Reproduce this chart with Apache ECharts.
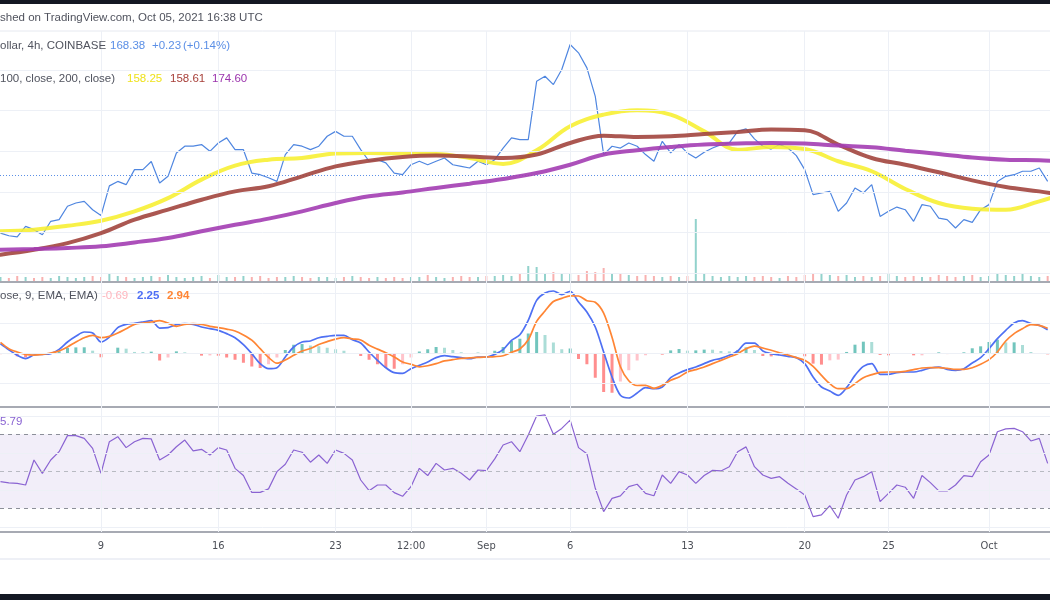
<!DOCTYPE html>
<html><head><meta charset="utf-8">
<script src="https://cdn.jsdelivr.net/npm/echarts@6/dist/echarts.min.js"></script>
<style>html,body{margin:0;padding:0;background:#fff;overflow:hidden}#c{width:1050px;height:600px}</style>
</head><body><div id="c"></div>
<script>
// ---- data (12h samples, day 0 = Aug 3 2021 00:00 UTC) ----
const stepDays = 0.5;
const priceClose = [139.8,138.5,137.9,143.1,141.5,139,145.6,146.4,153,154.6,155.4,151.3,148.4,163,165.2,163.6,171,171,175,164.4,167.7,179.2,182.5,182.5,183.3,180,184.1,186.6,180.8,180.8,169.3,168.5,167,165.2,178.4,183.3,182.5,180.8,182.5,187.4,189.8,187.4,
187.4,180.8,175.1,175.9,174.3,169.3,168.5,173.4,175.1,173.4,175.1,176.7,173.4,172.6,171.8,175.1,173.4,175.9,181.6,186.6,185.7,185.7,214.4,216.9,212.8,220.2,232.5,228.4,221,207,178.4,182.5,181.6,184.1,182.5,178.4,175.1,184.9,179.2,183.3,179.2,176.7,
179.5,181.6,183.3,184.1,189.8,191,186.1,182.5,181.1,183.3,181.6,177.9,171,158.7,159.5,160.3,150.5,154.6,162,159.5,163.6,148,150.5,152.6,151.3,145.6,153.8,153,147.2,146.4,142.3,146.4,145.1,151.3,153.8,165.2,167.7,168.5,170.2,170.2,171.8,165.2];
const maDays = [0,2,4,6,8,10,12,14,16,18,20,22,24,26,28,30,32,34,36,38,40,42,44,46,48,50,52,54,56,58,60,62,62.64];
const ma50  = [140.7,141.5,143.4,145.9,150.5,157,166.1,173,175.9,176.7,178.9,179.2,178.9,178.7,176.7,173.8,180.5,192.3,198,200.2,198,189.8,180.8,182.1,181.1,175.1,170.2,161.5,154.6,151.8,151.3,155.4,157];
const ma100 = [129.2,131.6,134.9,139.8,146.4,151.3,156.2,160.3,162.8,167.7,172.6,175.4,177.2,177.9,177.5,176.7,178.4,184.1,187.7,187,187.4,188.5,189.5,190.7,190.3,183.3,176.7,173.4,169.7,165.7,162.5,160.3,159.5];
const ma200 = [131.6,132,132.5,133.3,135.2,137.4,140.7,143.9,146.9,150.5,154.6,157.9,159.8,162,164.1,166.4,169.3,173.4,178.4,180.5,182.1,183.3,183.8,184.1,183.8,182.8,182,180.3,178.7,177,175.9,175.6,175.4];
const volume = [4,3,5,4,3,4,3,5,4,3, 4,5,4,7,5,4,3,4,5,4, 6,4,3,4,5,3,6,4,4,5, 4,5,3,4,4,5,4,3,4,4, 3,4,5,4,3,4,3,4,3,4,
4,6,4,3,4,5,4,4,5,5, 6,5,7,15,14,8,9,7,8,6, 10,9,13,8,7,6,5,6,5,4, 5,4,5,62,8,5,4,5,4,5, 4,5,4,3,5,4,6,7,8,6,
5,6,4,5,4,5,7,5,4,5, 4,4,6,5,4,5,6,4,5,7, 6,5,7,5,4,5];
// bars whose colour (up = 1) differs from the 12h close comparison
const volumeSideRead = [[83, 1]];
const macdLine = [1.24,0.44,-0.31,-0.76,-0.27,-0.18,-0.09,0.49,1.47,2.22,2.8,2.67,1.47,2.13,3.38,3.82,3.96,4.13,4.31,3.33,3.38,3.78,3.91,3.82,3.47,3.24,3.02,2.58,2.04,1.11,-0.09,-1.42,-2.09,-1.96,-0.53,0.8,1.47,1.6,2.04,2.22,2.36,2.36,
1.78,1.33,0.13,-0.98,-1.96,-2.62,-2.71,-2.09,-1.64,-1.2,-0.62,-0.36,-0.49,-0.62,-0.76,-0.53,-0.53,-0.18,0.44,1.69,2.44,4.36,7.02,8,8.27,7.78,8.22,6.8,5.47,3.47,0.13,-3.2,-5.64,-6,-5.33,-4.62,-4.76,-4.53,-3.29,-2.67,-2.22,-1.87,
-1.42,-0.98,-0.71,-0.31,0.27,1.33,1.33,0.27,-0.09,-0.27,-0.44,-0.62,-1.42,-3.2,-4.53,-5.07,-5.64,-4.62,-2.98,-1.78,-1.42,-2.84,-2.84,-2.62,-2.53,-2.53,-2.31,-2,-1.87,-2.18,-2.31,-2.09,-1.33,-0.62,0.58,1.91,3.02,4,4.31,3.91,3.69,3.11];
const signalLine = [1.42,0.58,0.13,-0.18,-0.27,-0.18,0,0.27,0.8,1.47,2.04,2.36,2.04,2.22,2.67,3.24,3.82,4,4.13,4.33,3.98,3.56,3.82,3.91,3.82,3.56,3.38,3.18,2.94,2.41,1.71,0.58,-0.59,-1.36,-0.93,-0.3,0.27,0.6,1.14,1.52,1.86,2.06,
1.88,1.73,1.03,0.52,0.04,-0.52,-1.21,-1.49,-1.84,-1.7,-1.42,-1.06,-0.89,-0.72,-0.66,-0.58,-0.53,-0.48,-0.36,0.09,0.54,1.76,4.22,5.6,6.87,7.28,7.62,7.6,6.97,6.77,5.33,2.1,-1.84,-3.7,-4.33,-4.32,-4.71,-4.31,-3.64,-3.2,-2.53,-2.22,
-1.87,-1.42,-0.98,-0.53,-0.09,0.58,0.93,0.67,0.36,0.04,-0.27,-0.62,-0.98,-1.78,-2.98,-4.09,-4.76,-4.76,-4.09,-3.29,-2.89,-2.58,-2.53,-2.53,-2.44,-2.22,-2,-1.96,-1.96,-2.04,-2.18,-2.18,-1.96,-1.51,-0.89,0.13,1.6,2.58,3.24,3.78,3.69,3.29];
const macdHist = [-0.18,-0.14,-0.44,-0.58,0,0,-0.09,0.22,0.67,0.75,0.76,0.31,-0.57,-0.09,0.71,0.58,0.14,0.13,0.18,-1,-0.6,0.22,0.09,-0.09,-0.35,-0.32,-0.36,-0.6,-0.9,-1.3,-1.8,-2,-1.5,-0.6,0.4,1.1,1.2,1,0.9,0.7,0.5,0.3,
-0.1,-0.4,-0.9,-1.5,-2,-2.1,-1.5,-0.6,0.2,0.5,0.8,0.7,0.4,0.1,-0.1,0.05,0,0.3,0.8,1.6,1.9,2.6,2.8,2.4,1.4,0.5,0.6,-0.8,-1.5,-3.3,-5.2,-5.3,-3.8,-2.3,-1,-0.3,-0.05,-0.22,0.35,0.53,0.31,0.35,
0.45,0.44,0.27,0.22,0.36,0.75,0.4,-0.4,-0.45,-0.31,-0.17,0,-0.44,-1.42,-1.55,-0.98,-0.88,0.14,1.11,1.51,1.47,-0.26,-0.31,-0.09,-0.09,-0.31,-0.31,-0.04,0.09,-0.14,-0.13,0.09,0.63,0.89,1.47,1.78,1.42,1.42,1.07,0.13,0,-0.18];
const rsi = [44.4,43.7,43.5,42.6,56.1,48.9,56.1,60.6,69.3,69.3,67.8,62.4,48.9,66,68.7,62.8,66,67.8,67.5,56.1,58.8,63.3,66.9,61,61.9,58.8,62.8,61.5,51.6,47.7,38.6,38.6,40.5,49.8,53.8,61.5,60.3,54.9,58.8,54.3,61.5,59.7,
56.1,45.3,39.5,42.6,42.6,38.5,36.5,41.7,51.6,47.7,54.3,50.7,51.6,48.9,45.3,50.7,50.4,56.7,64.2,66,60.6,69.6,79.9,80.5,70,73.2,77.7,62.8,59.5,40.8,28.2,35.4,36.7,41.7,43,38.1,36.8,48,43.5,49.8,48,43.5,
47.7,50.5,50.2,52.5,60.6,63.2,52.5,48,46.2,47.1,43.5,40.5,37.2,25.5,26.4,31.4,24.6,37.2,45.3,47.1,49.8,33.6,38.1,42.6,41.4,35.4,47.7,43.9,39.4,39.4,42.6,47.7,47.1,55.2,58.8,71.4,72.9,73.2,71.4,66.4,67.8,54.3];
const tickDays = [6,13,20,24.5,29,34,41,48,53,59];
const tickLabels = ['9','16','23','12:00','Sep','6','13','20','25','Oct'];
const hGridMain = [120,140,160,180,200,220];
const hGridMacd = [8,4,0,-4];
const hGridRsi = [80,60,40,20];
const rsiLevels = [70,50,30];
const lastClose = 168.38;
const legendPrice = ['168.38','+0.23','(+0.14%)'];
const legendMA = ['158.25','158.61','174.60'];
const legendMacd = ['-0.69','2.25','2.94'];
const legendRsi = '5.79';

// ---- build ----
const days = priceClose.map((_, i) => i * stepDays);
const pair = (arr, xs) => arr.map((v, i) => [xs[i], v]);
const X_MIN = -0.028, X_MAX = 62.64;
const FONT = "'Liberation Sans', Arial, sans-serif";
const gridColor = '#edf0f6';
const sideFix = {};
volumeSideRead.forEach(([i, s]) => { sideFix[i] = s; });

const volData = volume.map((v, i) => {
  const up = (i in sideFix) ? sideFix[i] === 1 : (i === 0 || priceClose[i] >= priceClose[i - 1]);
  return { value: [days[i], v], itemStyle: { color: up ? 'rgba(38,166,154,0.5)' : 'rgba(239,83,80,0.45)' } };
});
const histData = macdHist.map((v, i) => {
  const p = i > 0 ? macdHist[i - 1] : v;
  let c;
  if (v >= 0) c = v >= p ? 'rgba(38,166,154,0.65)' : 'rgba(150,212,205,0.8)';
  else c = v < p ? 'rgba(255,82,82,0.65)' : 'rgba(255,190,197,0.9)';
  return { value: [days[i], v], itemStyle: { color: c } };
});

function xAxisCfg(gi, opts) {
  return Object.assign({
    type: 'value', gridIndex: gi, min: X_MIN, max: X_MAX,
    axisLine: { show: false }, axisTick: { show: false }, axisLabel: { show: false }, splitLine: { show: false }
  }, opts || {});
}
function yAxisCfg(gi, min, max) {
  return { type: 'value', gridIndex: gi, min: min, max: max, show: false, splitLine: { show: false } };
}
function gridLines(xi, yi, hvals) {
  return {
    type: 'line', xAxisIndex: xi, yAxisIndex: yi, data: [], z: 1, silent: true,
    markLine: {
      silent: true, symbol: ['none', 'none'], label: { show: false }, animation: false,
      lineStyle: { color: gridColor, width: 1, type: 'solid' },
      data: tickDays.map(d => ({ xAxis: d })).concat(hvals.map(v => ({ yAxis: v })))
    }
  };
}
const sepStyle = { color: '#a7aab3', width: 2 };

const option = {
  animation: false,
  backgroundColor: '#ffffff',
  grid: [
    { left: 0, right: 0, top: 31, height: 251 },
    { left: 0, right: 0, top: 181, height: 100 },
    { left: 0, right: 0, top: 282, height: 125 },
    { left: 0, right: 0, top: 407, height: 125 }
  ],
  xAxis: [
    xAxisCfg(0, { axisLine: { show: true, onZero: false, lineStyle: sepStyle } }),
    xAxisCfg(1),
    xAxisCfg(2, { axisLine: { show: true, onZero: false, lineStyle: sepStyle } }),
    xAxisCfg(3, {
      axisLine: { show: true, onZero: false, lineStyle: sepStyle },
      axisLabel: {
        show: true, customValues: tickDays, margin: 9,
        color: '#4c4f57', fontSize: 11, fontFamily: "'Liberation Sans Narrow','DejaVu Sans Condensed',sans-serif",
        formatter: v => { const i = tickDays.indexOf(v); return i >= 0 ? tickLabels[i] : ''; }
      }
    })
  ],
  yAxis: [
    yAxisCfg(0, 115.77, 239.12),
    yAxisCfg(1, 0, 100),
    yAxisCfg(2, -7.2, 9.467),
    yAxisCfg(3, 17.19, 84.76)
  ],
  series: [
    gridLines(0, 0, hGridMain),
    { type: 'bar', xAxisIndex: 1, yAxisIndex: 1, data: volData, barWidth: 2, z: 2, silent: true },
    {
      type: 'line', xAxisIndex: 0, yAxisIndex: 0, data: pair(priceClose, days), symbol: 'none', z: 3,
      lineStyle: { color: '#4f86e0', width: 1.2 },
      markLine: {
        silent: true, symbol: ['none', 'none'], label: { show: false },
        lineStyle: { color: '#5b8fe6', width: 1, type: [1, 2] },
        data: [{ yAxis: lastClose }]
      }
    },
    { type: 'line', xAxisIndex: 0, yAxisIndex: 0, data: pair(ma50, maDays), symbol: 'none', smooth: 0.4, z: 4,
      lineStyle: { color: '#f7f034', width: 4, opacity: 0.9, cap: 'round' } },
    { type: 'line', xAxisIndex: 0, yAxisIndex: 0, data: pair(ma100, maDays), symbol: 'none', smooth: 0.4, z: 5,
      lineStyle: { color: '#a2453e', width: 4, opacity: 0.9, cap: 'round' } },
    { type: 'line', xAxisIndex: 0, yAxisIndex: 0, data: pair(ma200, maDays), symbol: 'none', smooth: 0.4, z: 6,
      lineStyle: { color: '#a33db3', width: 4, opacity: 0.9, cap: 'round' } },

    gridLines(2, 2, hGridMacd),
    { type: 'bar', xAxisIndex: 2, yAxisIndex: 2, data: histData, barWidth: 3, z: 2, silent: true },
    { type: 'line', xAxisIndex: 2, yAxisIndex: 2, data: pair(macdLine, days), symbol: 'none', smooth: 0.3, z: 3,
      lineStyle: { color: '#4f70f3', width: 1.7 } },
    { type: 'line', xAxisIndex: 2, yAxisIndex: 2, data: pair(signalLine, days), symbol: 'none', smooth: 0.3, z: 4,
      lineStyle: { color: '#ff8534', width: 1.7 } },

    {
      type: 'line', xAxisIndex: 3, yAxisIndex: 3, data: [], z: 1, silent: true,
      markArea: { silent: true, itemStyle: { color: 'rgba(126,87,194,0.1)' }, data: [[{ yAxis: rsiLevels[2] }, { yAxis: rsiLevels[0] }]] },
      markLine: {
        silent: true, symbol: ['none', 'none'], label: { show: false },
        lineStyle: { color: gridColor, width: 1, type: 'solid' },
        data: tickDays.map(d => ({ xAxis: d })).concat(hGridRsi.map(v => ({ yAxis: v })))
          .concat(rsiLevels.map((v, i) => ({ yAxis: v, lineStyle: { color: i === 1 ? '#b8bac2' : '#8c8f99', width: 1, type: [4, 4] } })))
      }
    },
    { type: 'line', xAxisIndex: 3, yAxisIndex: 3, data: pair(rsi, days), symbol: 'none', z: 3,
      lineStyle: { color: '#8a63d2', width: 1.2 } }
  ],
  graphic: [
    { type: 'rect', left: 0, top: 0, shape: { width: 1050, height: 4 }, style: { fill: '#141823' }, silent: true },
    { type: 'rect', left: 0, top: 594, shape: { width: 1050, height: 6 }, style: { fill: '#141823' }, silent: true },
    { type: 'line', shape: { x1: 0, y1: 31, x2: 1050, y2: 31 }, style: { stroke: '#e6e9f0', lineWidth: 1 }, silent: true },
    { type: 'line', shape: { x1: 0, y1: 559, x2: 1050, y2: 559 }, style: { stroke: '#eef0f6', lineWidth: 2 }, silent: true },
    { type: 'text', x: 0, y: 18, style: { text: 'shed on TradingView.com, Oct 05, 2021 16:38 UTC', fill: '#50535e', font: '11.5px ' + FONT, textVerticalAlign: 'middle' }, z: 100 },
    { type: 'text', x: 0, y: 46, style: { text: 'ollar, 4h, COINBASE', fill: '#50535e', font: '11.5px ' + FONT, textVerticalAlign: 'middle' }, z: 100 },
    { type: 'text', x: 110, y: 46, style: { text: legendPrice[0], fill: '#5b8fe6', font: '11.5px ' + FONT, textVerticalAlign: 'middle' }, z: 100 },
    { type: 'text', x: 152, y: 46, style: { text: legendPrice[1], fill: '#5b8fe6', font: '11.5px ' + FONT, textVerticalAlign: 'middle' }, z: 100 },
    { type: 'text', x: 183, y: 46, style: { text: legendPrice[2], fill: '#5b8fe6', font: '11.5px ' + FONT, textVerticalAlign: 'middle' }, z: 100 },
    { type: 'text', x: 0, y: 79, style: { text: '100, close, 200, close)', fill: '#50535e', font: '11.5px ' + FONT, textVerticalAlign: 'middle' }, z: 100 },
    { type: 'text', x: 127, y: 79, style: { text: legendMA[0], fill: '#efe21c', font: '11.5px ' + FONT, textVerticalAlign: 'middle' }, z: 100 },
    { type: 'text', x: 170, y: 79, style: { text: legendMA[1], fill: '#a8403a', font: '11.5px ' + FONT, textVerticalAlign: 'middle' }, z: 100 },
    { type: 'text', x: 212, y: 79, style: { text: legendMA[2], fill: '#9c35ad', font: '11.5px ' + FONT, textVerticalAlign: 'middle' }, z: 100 },
    { type: 'text', x: 0, y: 296, style: { text: 'ose, 9, EMA, EMA)', fill: '#50535e', font: '11.5px ' + FONT, textVerticalAlign: 'middle' }, z: 100 },
    { type: 'text', x: 102, y: 296, style: { text: legendMacd[0], fill: '#ffb5bd', font: '11.5px ' + FONT, textVerticalAlign: 'middle' }, z: 100 },
    { type: 'text', x: 137, y: 296, style: { text: legendMacd[1], fill: '#4d6ef5', font: 'bold 11.5px ' + FONT, textVerticalAlign: 'middle' }, z: 100 },
    { type: 'text', x: 167, y: 296, style: { text: legendMacd[2], fill: '#ff8534', font: 'bold 11.5px ' + FONT, textVerticalAlign: 'middle' }, z: 100 },
    { type: 'text', x: 0, y: 422, style: { text: legendRsi, fill: '#8a63d2', font: '11.5px ' + FONT, textVerticalAlign: 'middle' }, z: 100 }
  ]
};
const chart = echarts.init(document.getElementById('c'), null, { renderer: 'canvas', width: 1050, height: 600 });
chart.setOption(option);
</script></body></html>
